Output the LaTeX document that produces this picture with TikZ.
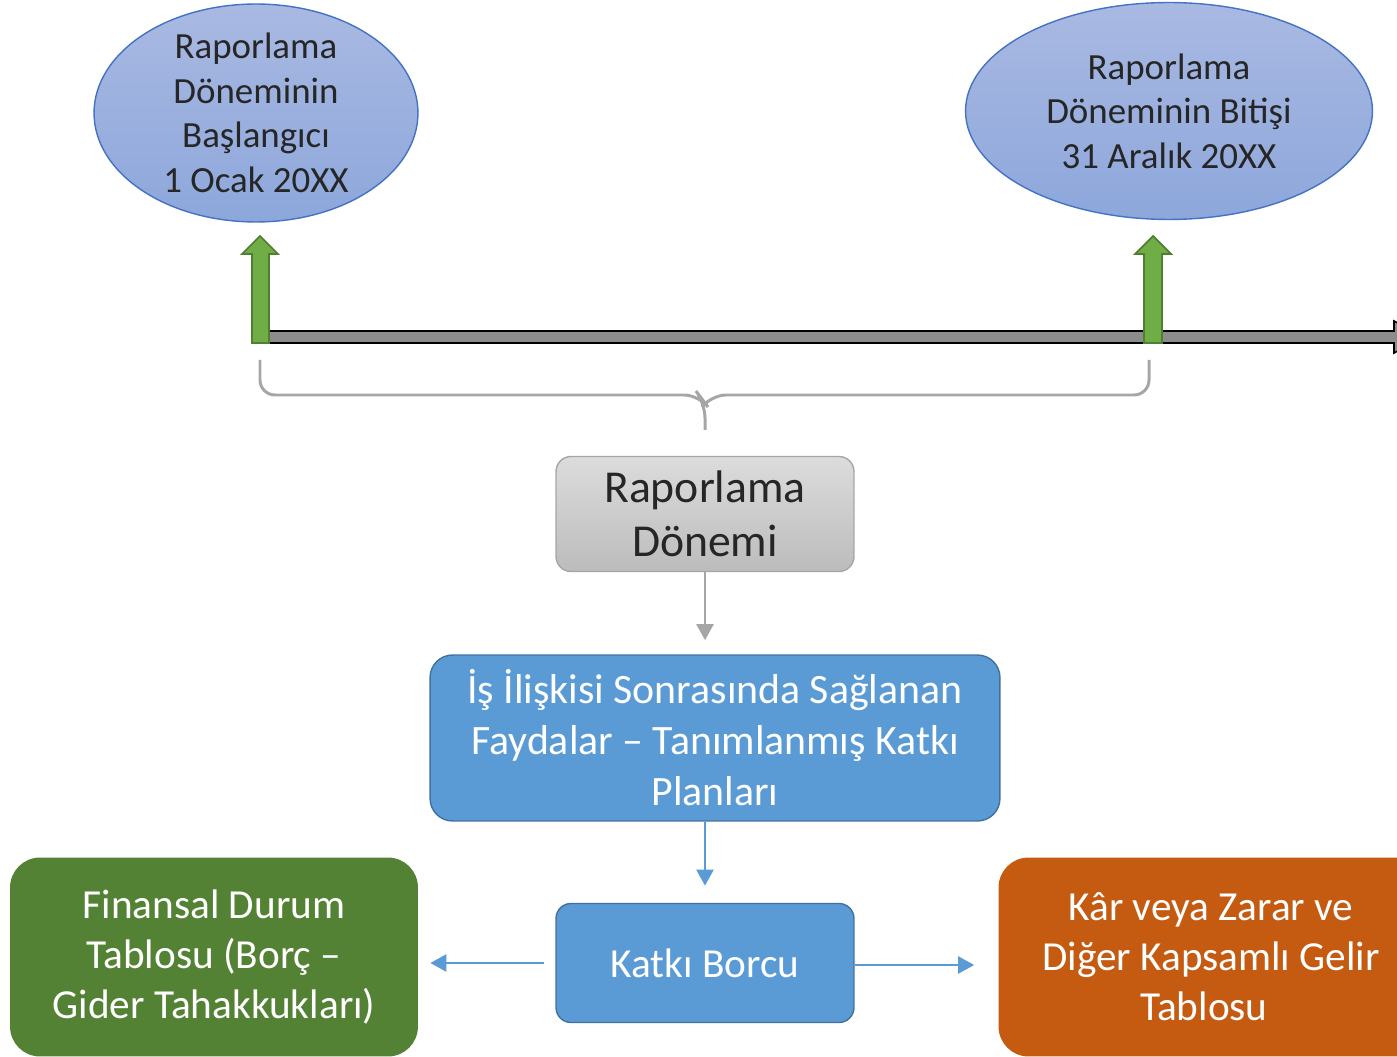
\documentclass[tikz,border=0pt]{standalone}
\usepackage{fontspec}
\setmainfont{Carlito}
\usepackage{tikz}
\usetikzlibrary{arrows.meta, positioning, shapes.geometric, calc}
\usepackage{xcolor}

\definecolor{ellTop}{HTML}{A9B9E2}
\definecolor{ellBot}{HTML}{8DA7DB}
\definecolor{ellEdge}{HTML}{4472C4}
\definecolor{grayTop}{HTML}{DCDCDC}
\definecolor{grayBot}{HTML}{BCBCBC}
\definecolor{grayEdge}{HTML}{A6A6A6}
\definecolor{blueFill}{HTML}{5B9BD5}
\definecolor{blueEdge}{HTML}{41719C}
\definecolor{greenFill}{HTML}{548235}
\definecolor{orangeFill}{HTML}{C55A11}
\definecolor{arrowGreen}{HTML}{70AD47}
\definecolor{arrowEdge}{HTML}{507E32}
\definecolor{barGray}{HTML}{8C8C8C}

\begin{document}
\begin{tikzpicture}[
        x=0.02cm, y=-0.02cm,
        ellipsebox/.style={ellipse, draw=ellEdge, thick, top color=ellTop, bottom color=ellBot, inner sep=0pt},
        ellipsetext/.style={align=center, font=\fontsize{21}{25.3}\selectfont, text=black!85},
        graybox/.style={rectangle, draw=grayEdge, thick, rounded corners=0.3cm, top color=grayTop, bottom color=grayBot, minimum width=5.96cm, minimum height=2.3cm, align=center, font=\fontsize{26}{31}\selectfont, text=black!85},
        bluebox/.style={rectangle, draw=blueEdge, thick, rounded corners=0.45cm, fill=blueFill, align=center, text=white},
        sidebox/.style={rectangle, rounded corners=0.6cm, minimum height=3.98cm, align=center, text=white, font=\fontsize{23.5}{28.5}\selectfont},
        arrow/.style={-{Triangle[length=3.2mm, width=3.4mm]}, line width=1.3pt},
        upArrow/.style={fill=arrowGreen, draw=arrowEdge, line width=1pt}
    ]
        \useasboundingbox (0,0) rectangle (1397,1057);

        % top ellipses
        \node[ellipsebox, minimum width=6.48cm, minimum height=4.36cm] (startEll) at (256,113) {};
        \node[ellipsetext] (startTxt) at (startEll.center) {Raporlama\\Döneminin\\Başlangıcı\\1 Ocak 20XX};
        \node[ellipsebox, minimum width=8.14cm, minimum height=4.34cm] (endEll) at (1169,111) {};
        \node[ellipsetext] (endTxt) at (endEll.center) {Raporlama\\Döneminin Bitişi\\31 Aralık 20XX};

        % time line
        \draw[fill=barGray, draw=black, line width=0.9pt] (262,331) -- (1394,331) -- (1394,321) -- (1424,337) -- (1394,353) -- (1394,343) -- (262,343) -- cycle;

        % green markers
        \draw[upArrow] (252,343) -- (252,254) -- (242,254) -- (260,236) -- (278,254) -- (269,254) -- (269,343) -- cycle;
        \draw[upArrow] (1144,343) -- (1144,254) -- (1135,254) -- (1153,236) -- (1171,254) -- (1162,254) -- (1162,343) -- cycle;

        % brace
        \draw[grayEdge, line width=1.7pt, rounded corners=0.3cm] (260,360) -- (260,395) -- (699,395) -- (705,403) -- (705,430);
        \draw[grayEdge, line width=1.7pt, rounded corners=0.3cm] (1149,360) -- (1149,395) -- (711,395) -- (705,403);

        % boxes
        \node[graybox] (period) at (705,514) {Raporlama\\Dönemi};
        \node[bluebox, minimum width=11.4cm, minimum height=3.32cm, font=\fontsize{23.8}{29}\selectfont] (plans) at (715,738) {İş İlişkisi Sonrasında Sağlanan\\Faydalar – Tanımlanmış Katkı\\Planları};
        \node[bluebox, rounded corners=0.3cm, minimum width=5.96cm, minimum height=2.38cm, font=\fontsize{23.5}{28.5}\selectfont] (debt) at (705,963) {Katkı Borcu};
        \node[sidebox, fill=greenFill, minimum width=8.16cm] (finPos) at (214,957) {Finansal Durum\\Tablosu (Borç –\\Gider Tahakkukları)};
        \node[sidebox, fill=orangeFill, minimum width=8.5cm] (profit) at (1211,957) {Kâr veya Zarar ve\\Diğer Kapsamlı Gelir\\Tablosu\hspace*{0.28cm}};

        % connectors
        \draw[arrow, grayEdge] (period.south) -- ++(0,68);
        \draw[arrow, blueFill] (debt |- plans.south) -- ++(0,64);
        \draw[arrow, blueFill] ($(debt.west)+(-11,0)$) -- ($(finPos.east |- debt.west)+(12,0)$);
        \draw[arrow, blueFill] ($(debt.east)+(0,2)$) -- ($(profit.west |- debt.east)+(-24,2)$);
    \end{tikzpicture}
\end{document}
